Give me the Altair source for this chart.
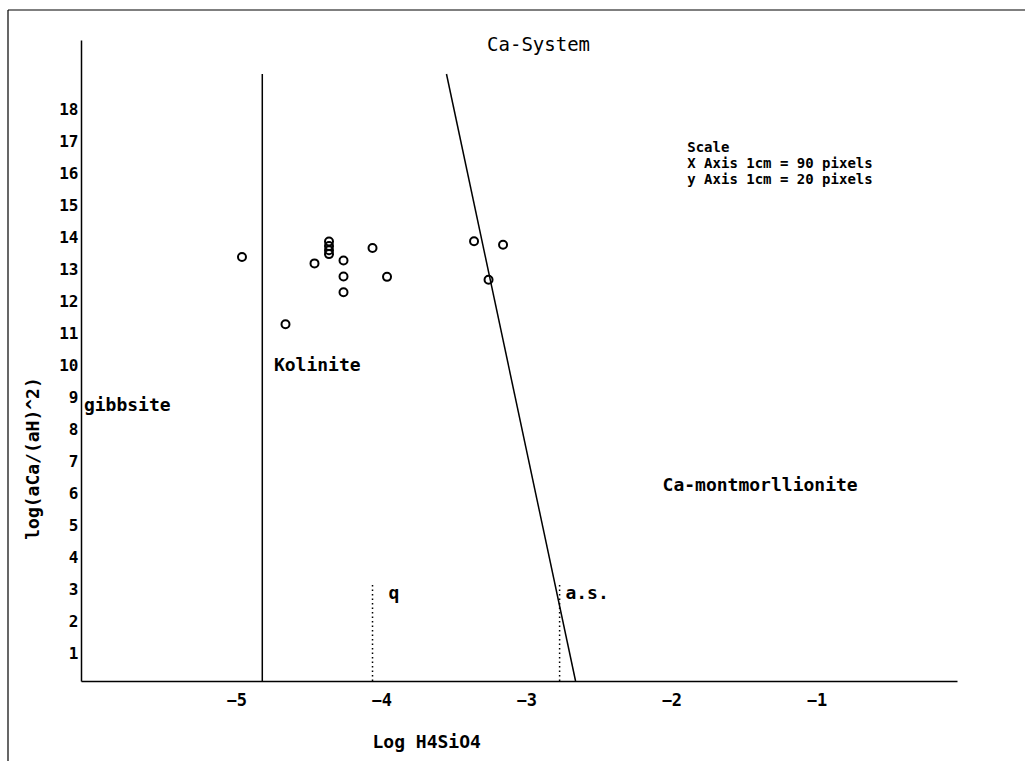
import altair as alt
import pandas as pd

# ---- data ----
pt_x = [-4.89, -4.39, -4.29, -4.29, -4.29, -4.29, -4.19, -4.19, -4.19,
        -3.99, -3.89, -4.59, -3.29, -3.09, -3.19]
pt_y = [13.23, 13.03, 13.71, 13.57, 13.44, 13.32, 13.12, 12.62, 12.13,
        13.51, 12.61, 11.13, 13.72, 13.61, 12.52]

# solid phase boundaries (x, y, x2, y2)
bound_x = [-4.75, -3.48]
bound_y = [0.0, 18.94]
bound_x2 = [-4.75, -2.59]
bound_y2 = [18.94, 0.0]

# dotted silica saturation lines: quartz, amorphous silica
silica_x = [-3.99, -2.70]
silica_top = [3.06, 3.06]

# field labels
field_text = ["gibbsite", "Kolinite", "Ca-montmorllionite", "q", "a.s."]
field_x = [-5.98, -4.67, -1.99, -3.88, -2.66]
field_y = [8.58, 9.83, 6.08, 2.7, 2.7]

scale_text = ["Scale", "X Axis 1cm = 90 pixels", "y Axis 1cm = 20 pixels"]
scale_x = [-1.82, -1.82, -1.82]
scale_y = [16.62, 16.13, 15.64]

x_ticks = [-5, -4, -3, -2, -1]
y_ticks = list(range(1, 19))

FONT = "DejaVu Sans Mono"

pts = pd.DataFrame({"x": pt_x, "y": pt_y})
bounds = pd.DataFrame({"x": bound_x, "y": bound_y, "x2": bound_x2, "y2": bound_y2})
sil = pd.DataFrame({"x": silica_x, "y": [0.0, 0.0], "y2": silica_top})
fields = pd.DataFrame({"x": field_x, "y": field_y, "t": field_text})
scl = pd.DataFrame({"x": scale_x, "y": scale_y, "t": scale_text})
ttl = pd.DataFrame({"x": [-3.2], "y": [19.84], "t": ["Ca-System"]})

xs = alt.Scale(domain=[-6, 0.04], nice=False, zero=False)
ys = alt.Scale(domain=[0, 20], nice=False, zero=False)

xaxis = alt.Axis(values=x_ticks, ticks=False, grid=False, domainColor="black",
                 domainWidth=1.5, labelFont=FONT, labelFontSize=17,
                 labelFontWeight="bold", labelColor="black", labelAlign="left",
                 labelBaseline="top", labelPadding=11, labelOverlap=False,
                 format="d", title="Log H4SiO4", titleFont=FONT, titleFontSize=18,
                 titleFontWeight="bold", titleColor="black", titleX=291,
                 titleY=61, titleAlign="left", titleBaseline="middle")
yaxis = alt.Axis(values=y_ticks, ticks=False, grid=False, domainColor="black",
                 domainWidth=1.5, labelFont=FONT, labelFontSize=16,
                 labelFontWeight="bold", labelColor="black", labelPadding=3,
                 labelOffset=5, labelOverlap=False, format="d",
                 title="log(aCa/(aH)^2)", titleFont=FONT, titleFontSize=18,
                 titleFontWeight="bold", titleColor="black", titleAngle=270,
                 titleX=-48, titleY=418, titleAlign="center",
                 titleBaseline="middle")


def X(f="x"):
    return alt.X(f, type="quantitative", scale=xs, axis=xaxis)


def Y(f="y"):
    return alt.Y(f, type="quantitative", scale=ys, axis=yaxis)


points = alt.Chart(pts).mark_point(shape="circle", filled=False, color="black",
                                   size=64, strokeWidth=2, opacity=1).encode(x=X(), y=Y())

solid = alt.Chart(bounds).mark_rule(color="black", strokeWidth=1.5).encode(
    x=X(), y=Y(), x2="x2", y2="y2")

dotted = alt.Chart(sil).mark_rule(color="black", strokeWidth=1.5,
                                  strokeDash=[1.5, 3]).encode(x=X(), y=Y(), y2="y2")

field_lbl = alt.Chart(fields).mark_text(font=FONT, fontSize=18, fontWeight="bold",
                                        align="left", baseline="middle",
                                        color="black").encode(x=X(), y=Y(), text="t")

scale_lbl = alt.Chart(scl).mark_text(font=FONT, fontSize=14, fontWeight="bold",
                                     align="left", baseline="middle",
                                     color="black").encode(x=X(), y=Y(), text="t")

title_lbl = alt.Chart(ttl).mark_text(font=FONT, fontSize=19, align="left",
                                     baseline="middle", color="black").encode(
    x=X(), y=Y(), text="t")

frame = alt.Data(values=[{"k": 1}])
border_left = alt.Chart(frame).mark_rule(color="black", strokeWidth=1.2).encode(
    x=alt.value(-73), y=alt.value(-30), y2=alt.value(721))
border_top = alt.Chart(frame).mark_rule(color="black", strokeWidth=1.2).encode(
    x=alt.value(-73), x2=alt.value(944), y=alt.value(-30))

chart = alt.layer(points, solid, dotted, field_lbl, scale_lbl, title_lbl,
                  border_left, border_top).properties(
    width=876, height=641,
    padding={"left": 81, "top": 40, "right": 68, "bottom": 80},
    autosize="none", background="white"
).configure_view(stroke=None)

chart.save("out.html", embed_options={"renderer": "svg", "actions": False})
